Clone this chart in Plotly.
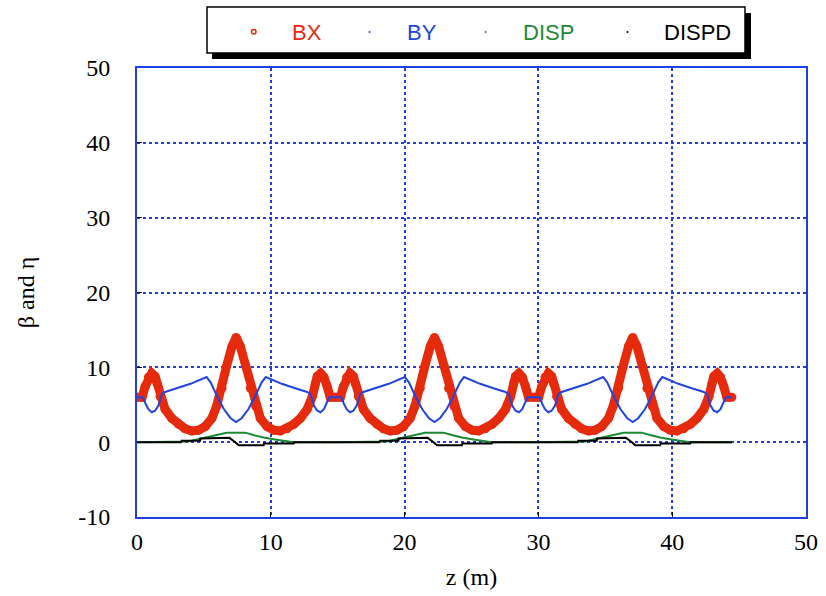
import plotly.graph_objects as go

# ---------------- data ----------------
S_BX = [0, 0.38, 0.6, 0.85, 1.1, 1.35, 1.5, 1.72, 2.1, 2.6, 3.1, 3.6, 4.1, 4.6, 5.1, 5.6, 5.95, 6.35, 6.7, 7.1,
        7.41, 7.72, 8.12, 8.47, 8.87, 9.22, 9.72, 10.22, 10.72, 11.22, 11.72, 12.22, 12.72, 13.1, 13.32, 13.47, 13.72,
        13.97, 14.22, 14.44,
        14.82, 15.2, 15.42, 15.67, 15.92, 16.17, 16.32, 16.54, 16.92, 17.42, 17.92, 18.42, 18.92, 19.42, 19.92, 20.42,
        20.77, 21.17, 21.52, 21.92, 22.23, 22.54, 22.94, 23.29, 23.69, 24.04, 24.54, 25.04, 25.54, 26.04, 26.54, 27.04,
        27.54, 27.92, 28.14, 28.29, 28.54, 28.79, 29.04, 29.26,
        29.64, 30.02, 30.24, 30.49, 30.74, 30.99, 31.14, 31.36, 31.74, 32.24, 32.74, 33.24, 33.74, 34.24, 34.74, 35.24,
        35.59, 35.99, 36.34, 36.74, 37.05, 37.36, 37.76, 38.11, 38.51, 38.86, 39.36, 39.86, 40.36, 40.86, 41.36, 41.86,
        42.36, 42.74, 42.96, 43.11, 43.36, 43.61, 43.86, 44.08, 44.46]
BX = [6.0, 6.0, 7.4, 8.7, 9.2, 8.8, 7.8, 6.1, 4.4, 3.2, 2.4, 1.8, 1.5, 1.6, 2.1, 3.2, 4.8, 7.2, 10.2, 12.8,
      14.0, 12.8, 10.2, 7.2, 4.8, 3.2, 2.1, 1.6, 1.5, 1.8, 2.4, 3.2, 4.4, 6.1, 7.8, 8.8, 9.2, 8.7, 7.4, 6.0,
      6.0, 6.0, 7.4, 8.7, 9.2, 8.8, 7.8, 6.1, 4.4, 3.2, 2.4, 1.8, 1.5, 1.6, 2.1, 3.2, 4.8, 7.2, 10.2, 12.8,
      14.0, 12.8, 10.2, 7.2, 4.8, 3.2, 2.1, 1.6, 1.5, 1.8, 2.4, 3.2, 4.4, 6.1, 7.8, 8.8, 9.2, 8.7, 7.4, 6.0,
      6.0, 6.0, 7.4, 8.7, 9.2, 8.8, 7.8, 6.1, 4.4, 3.2, 2.4, 1.8, 1.5, 1.6, 2.1, 3.2, 4.8, 7.2, 10.2, 12.8,
      14.0, 12.8, 10.2, 7.2, 4.8, 3.2, 2.1, 1.6, 1.5, 1.8, 2.4, 3.2, 4.4, 6.1, 7.8, 8.8, 9.2, 8.7, 7.4, 6.0, 6.0]

S_BY = [0, 0.45, 0.65, 0.85, 1.1, 1.35, 1.6, 1.85, 2.1, 3.0, 4.0, 5.2, 5.5, 6.0, 6.5, 7.0, 7.41, 7.82, 8.32, 8.82,
        9.32, 9.62, 10.82, 11.82, 12.72, 12.97, 13.22, 13.47, 13.72, 13.97, 14.17, 14.37,
        14.82, 15.27, 15.47, 15.67, 15.92, 16.17, 16.42, 16.67, 16.92, 17.82, 18.82, 20.02, 20.32, 20.82, 21.32, 21.82,
        22.23, 22.64, 23.14, 23.64, 24.14, 24.44, 25.64, 26.64, 27.54, 27.79, 28.04, 28.29, 28.54, 28.79, 28.99, 29.19,
        29.64, 30.09, 30.29, 30.49, 30.74, 30.99, 31.24, 31.49, 31.74, 32.64, 33.64, 34.84, 35.14, 35.64, 36.14, 36.64,
        37.05, 37.46, 37.96, 38.46, 38.96, 39.26, 40.46, 41.46, 42.36, 42.61, 42.86, 43.11, 43.36, 43.61, 43.81, 44.01,
        44.46]
BY = [6.0, 6.0, 5.1, 4.4, 4.0, 4.2, 4.9, 6.4, 6.7, 7.2, 7.8, 8.7, 8.0, 6.1, 4.4, 3.2, 2.7, 3.2, 4.4, 6.1,
      8.0, 8.7, 7.8, 7.2, 6.7, 6.4, 4.9, 4.2, 4.0, 4.4, 5.1, 6.0,
      6.0, 6.0, 5.1, 4.4, 4.0, 4.2, 4.9, 6.4, 6.7, 7.2, 7.8, 8.7, 8.0, 6.1, 4.4, 3.2, 2.7, 3.2, 4.4, 6.1,
      8.0, 8.7, 7.8, 7.2, 6.7, 6.4, 4.9, 4.2, 4.0, 4.4, 5.1, 6.0,
      6.0, 6.0, 5.1, 4.4, 4.0, 4.2, 4.9, 6.4, 6.7, 7.2, 7.8, 8.7, 8.0, 6.1, 4.4, 3.2, 2.7, 3.2, 4.4, 6.1,
      8.0, 8.7, 7.8, 7.2, 6.7, 6.4, 4.9, 4.2, 4.0, 4.4, 5.1, 6.0, 6.0]

S_DISP = [0, 3.34, 3.84, 4.72, 5.46, 6.21, 6.71, 8.08, 8.71, 9.46, 10.2, 11.08, 11.7,
          14.82, 18.16, 18.66, 19.54, 20.28, 21.03, 21.53, 22.9, 23.53, 24.28, 25.02, 25.9, 26.52,
          29.64, 32.98, 33.48, 34.36, 35.1, 35.85, 36.35, 37.72, 38.35, 39.1, 39.84, 40.72, 41.34, 44.46]
DISP = [0, 0, 0.1, 0.45, 0.8, 1.07, 1.27, 1.27, 0.95, 0.62, 0.4, 0.18, 0,
        0, 0, 0.1, 0.45, 0.8, 1.07, 1.27, 1.27, 0.95, 0.62, 0.4, 0.18, 0,
        0, 0, 0.1, 0.45, 0.8, 1.07, 1.27, 1.27, 0.95, 0.62, 0.4, 0.18, 0, 0]

S_DISPD = [0, 3.3, 3.34, 4.72, 4.73, 5.46, 5.47, 6.9, 7.3, 7.6, 9.46, 9.5, 11.7, 11.75,
           14.82, 18.12, 18.16, 19.54, 19.55, 20.28, 20.29, 21.72, 22.12, 22.42, 24.28, 24.32, 26.52, 26.57,
           29.64, 32.94, 32.98, 34.36, 34.37, 35.1, 35.11, 36.54, 36.94, 37.24, 39.1, 39.14, 41.34, 41.39, 44.46]
DISPD = [0, 0, 0.18, 0.18, 0.49, 0.49, 0.58, 0.58, 0.05, -0.4, -0.4, -0.18, -0.18, 0,
         0, 0, 0.18, 0.18, 0.49, 0.49, 0.58, 0.58, 0.05, -0.4, -0.4, -0.18, -0.18, 0,
         0, 0, 0.18, 0.18, 0.49, 0.49, 0.58, 0.58, 0.05, -0.4, -0.4, -0.18, -0.18, 0, 0]

SERIES = ["BX", "BY", "DISP", "DISPD"]
X_TICKS = [0, 10, 20, 30, 40, 50]
Y_TICKS = [-10, 0, 10, 20, 30, 40, 50]

# ---------------- styles ----------------
RED = "#e62a0c"
BLUE = "#2244e0"
GREEN = "#1c8a34"
BLACK = "#000000"
FRAME = "#1f3fe6"
W, H = 826, 596
ML, MR, MT, MB = 137, 20, 68, 79

fig = go.Figure()
fig.add_trace(go.Scatter(x=S_BX, y=BX, mode="lines+markers", name="BX", showlegend=False,
                         line=dict(color=RED, width=9), marker=dict(color=RED, size=9)))
fig.add_trace(go.Scatter(x=S_BY, y=BY, mode="lines", name="BY", showlegend=False,
                         line=dict(color=BLUE, width=2)))
fig.add_trace(go.Scatter(x=S_DISP, y=DISP, mode="lines", name="DISP", showlegend=False,
                         line=dict(color=GREEN, width=2)))
fig.add_trace(go.Scatter(x=S_DISPD, y=DISPD, mode="lines", name="DISPD", showlegend=False,
                         line=dict(color=BLACK, width=2)))

axis_common = dict(showline=True, linecolor=FRAME, linewidth=2, mirror=True,
                   showgrid=True, gridcolor=FRAME, gridwidth=2, griddash="3px,3px",
                   zeroline=False, ticks="inside", ticklen=5, tickcolor="black",
                   automargin=False,
                   tickfont=dict(family="Liberation Serif", size=24, color="black"))

fig.update_xaxes(range=[0, 50], tickvals=X_TICKS, ticktext=[str(v) for v in X_TICKS],
                 title=dict(text="z (m)", font=dict(family="Liberation Serif", size=24, color="black"),
                            standoff=14),
                 ticklabelstandoff=2, **axis_common)
fig.update_yaxes(range=[-10, 50], tickvals=Y_TICKS, ticktext=[str(v) for v in Y_TICKS],
                 title=dict(text="β and η", font=dict(family="Liberation Serif", size=24, color="black"),
                            standoff=37),
                 ticklabelstandoff=20, **axis_common)

# ---------------- legend box (drawn manually) ----------------
pw, ph = W - ML - MR, H - MT - MB
def px(x):
    return (x - ML) / pw
def py(y):
    return (H - MB - y) / ph

shapes = [
    dict(type="rect", xref="paper", yref="paper", x0=px(212), x1=px(751), y0=py(13), y1=py(59),
         fillcolor="black", line=dict(width=0), layer="above"),
    dict(type="rect", xref="paper", yref="paper", x0=px(207), x1=px(745), y0=py(7), y1=py(53),
         fillcolor="white", line=dict(color="black", width=1.5), layer="above"),
    dict(type="circle", xref="paper", yref="paper", x0=px(251.5), x1=px(256), y0=py(29.5), y1=py(34),
         fillcolor="white", line=dict(color=RED, width=1.5), layer="above"),
]
dot_x = [369.5, 485.5, 627.5]
dot_c = [BLUE, GREEN, BLACK]
for xx, cc in zip(dot_x, dot_c):
    shapes.append(dict(type="circle", xref="paper", yref="paper", x0=px(xx - 1), x1=px(xx + 1),
                       y0=py(31), y1=py(33), fillcolor=cc, line=dict(width=0), layer="above"))

text_x = [307, 422, 548, 697]
text_c = [RED, BLUE, GREEN, BLACK]
annotations = []
for name, xx, cc in zip(SERIES, text_x, text_c):
    annotations.append(dict(text=name, xref="paper", yref="paper", x=px(xx), y=py(32),
                            xanchor="center", yanchor="middle", showarrow=False,
                            font=dict(family="Liberation Sans", size=22, color=cc)))

fig.update_layout(width=W, height=H, margin=dict(l=ML, r=MR, t=MT, b=MB),
                  plot_bgcolor="white", paper_bgcolor="white",
                  shapes=shapes, annotations=annotations, showlegend=False)

fig.write_html("out.html")
